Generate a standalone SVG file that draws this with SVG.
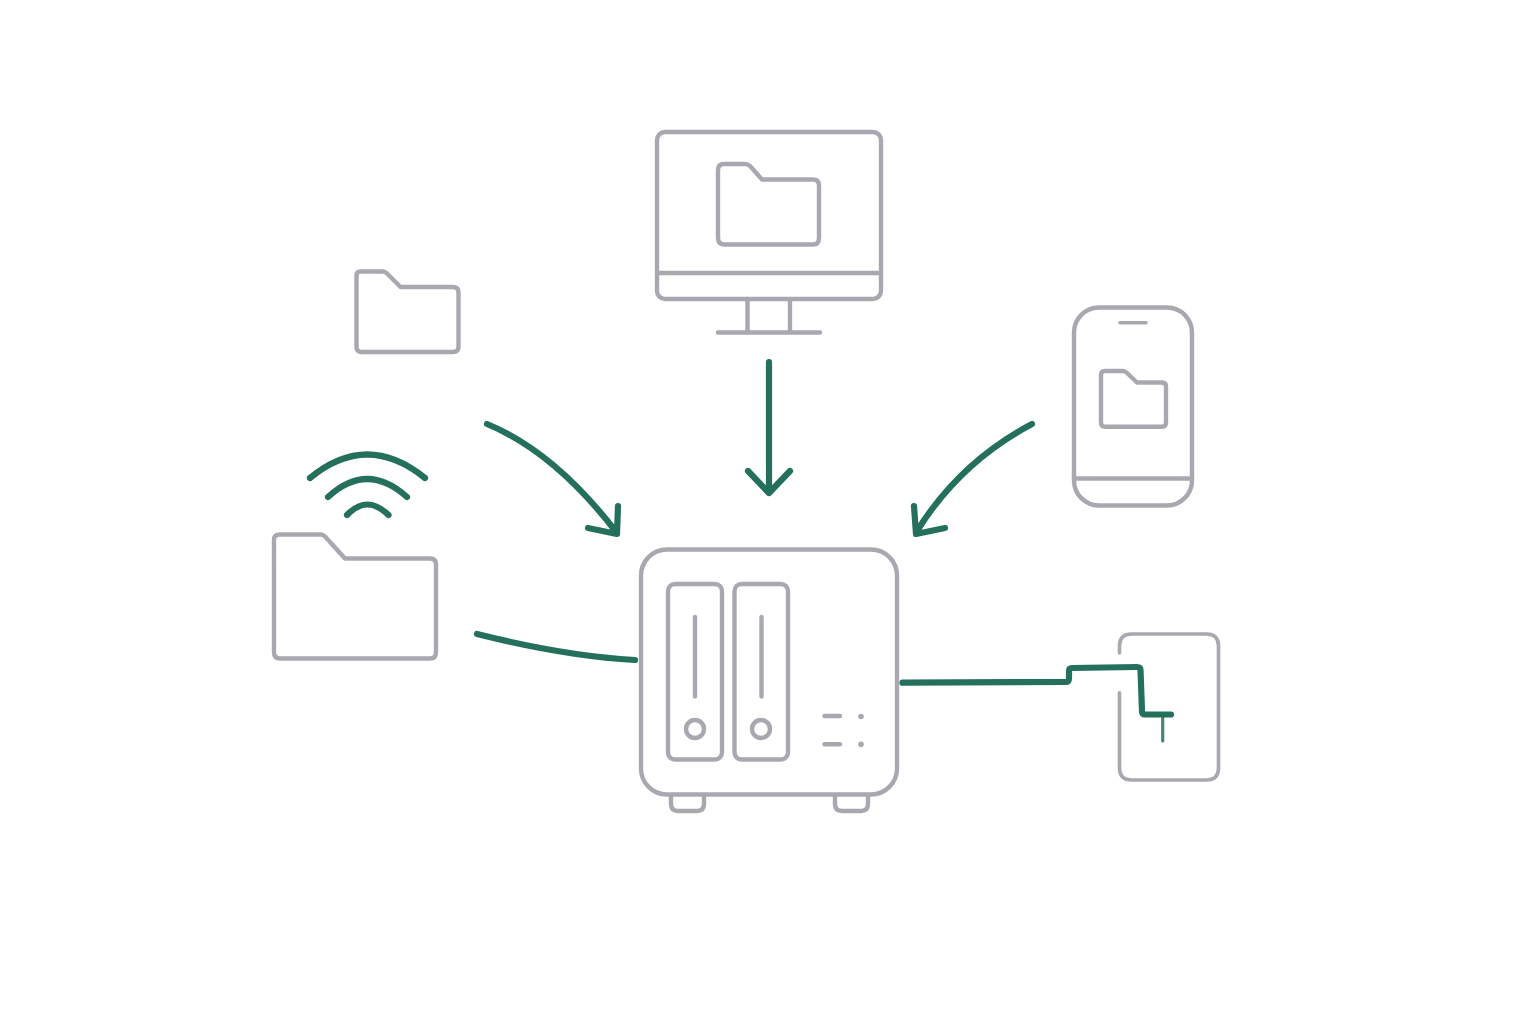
<svg xmlns="http://www.w3.org/2000/svg" width="1536" height="1024" viewBox="0 0 1536 1024">
<style>
.g{fill:none;stroke:#a9a8b0;stroke-width:4.4;stroke-linecap:round;stroke-linejoin:round}
.t{stroke-width:3.6}
.c{fill:none;stroke:#25705d;stroke-width:6.2;stroke-linecap:round;stroke-linejoin:round}
.s{stroke-width:3.2;opacity:.85}
.f{fill:#25705d}
</style>
<rect width="1536" height="1024" fill="#ffffff"/>
<g id="folder-small"><path class="g" d="M360.500 271.500H383Q385 271.500 387 273.500L400.500 287H453Q458.500 287 458.500 292.500V346.500Q458.500 352 453 352H361.500Q356.500 352 356.500 347V275.500Q356.500 271.500 360.500 271.500Z"/></g>
<g id="monitor">
<rect class="g" x="657" y="132" width="224" height="167" rx="8"/>
<path class="g" d="M657 273H881M747.500 299V332M790 299V332M718 332.500H820"/>
<path class="g" d="M724 164H745Q748 164 750 166L762 179.500H813Q819 179.500 819 185.500V238Q819 244.500 813 244.500H725Q718 244.500 718 238V170Q718 164 724 164Z"/>
</g>
<g id="phone">
<rect class="g" x="1074" y="307.500" width="118" height="198" rx="25"/>
<path class="g" d="M1074 478.500H1192"/>
<path class="g t" d="M1120 322.700H1146"/>
<path class="g" d="M1105 371H1123Q1125 371 1127 373L1137 382.500H1162Q1166 382.500 1166 386.500V422.500Q1166 426.700 1162 426.700H1105Q1101 426.700 1101 422.500V375Q1101 371 1105 371Z"/>
</g>
<g id="folder-wifi">
<path class="g" d="M280 534.500H321Q323 534.500 325 536.500L345 558.500H430Q436 558.500 436 564.500V652Q436 658.500 430 658.500H280Q274 658.500 274 652V540Q274 534.500 280 534.500Z"/>
<path class="c" d="M310 478Q367 431 425 478M328 497Q367 461 407 497M347 515Q367 494 388.500 515"/>
</g>
<g id="nas">
<path class="g" d="M671 796V804Q671 811 678 811H697Q704 811 704 804V796M835 796V804Q835 811 842 811H861Q868 811 868 804V796"/>
<rect class="g" x="641" y="549.500" width="256" height="245" rx="26" fill="#fff"/>
<rect class="g" x="668" y="584" width="54" height="175.500" rx="7"/>
<rect class="g" x="734.500" y="584" width="53.500" height="175.500" rx="7"/>
<path class="g" d="M695 617V696.500M761.500 617V696.500M824.500 716H840M824.500 744.300H840"/>
<circle class="g" cx="695" cy="729" r="9"/>
<circle class="g" cx="761" cy="729" r="9"/>
<circle cx="861" cy="716.500" r="2.800" fill="#a9a8b0"/>
<circle cx="861" cy="744.300" r="2.800" fill="#a9a8b0"/>
</g>
<g id="tablet"><path class="g t" d="M1119.500 653V646Q1119.500 634 1131.500 634H1206.500Q1218.500 634 1218.500 646V768Q1218.500 780 1206.500 780H1131.500Q1119.500 780 1119.500 768V692.700"/></g>
<g id="connectors">
<path class="c" d="M487 424Q555 452 617 533M618 506L617 534L588 528"/>
<path class="f" d="M612 527L617 522L617 534Z"/>
<path class="c" d="M769 362V493M748 471L769 493L790 471"/>
<path class="c" d="M1032 424Q960 462 917 531M914 506L916 534L945 528"/>
<path class="f" d="M921 527L916 522L916 534Z"/>
<path class="c" d="M477 634Q565 656 635 660"/>
<path class="c" d="M902.500 682.700L1066 682Q1069 682 1069 678V671Q1069 668 1072 668L1137 667Q1140.500 667 1140.500 670L1142 711Q1142 714.500 1145 714.500H1171"/>
<path class="c s" d="M1162.700 715V741"/>
</g>
</svg>
